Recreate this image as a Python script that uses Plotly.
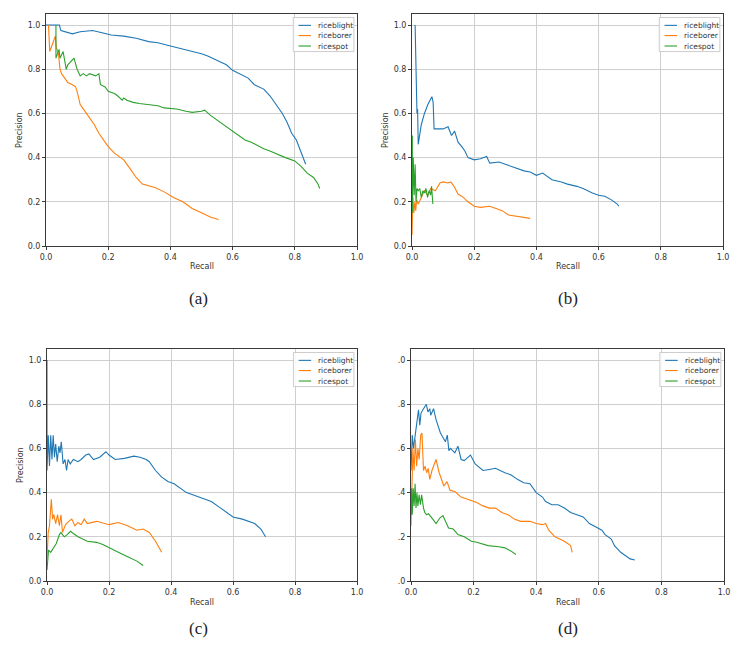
import plotly.graph_objects as go

# ---------------- data ----------------
series_names = ["riceblight", "riceborer", "ricespot"]
series_colors = ["#1f77b4", "#ff7f0e", "#2ca02c"]
panel_labels = ["(a)", "(b)", "(c)", "(d)"]
tick_vals = [0.0, 0.2, 0.4, 0.6, 0.8, 1.0]
tick_text = ["0.0", "0.2", "0.4", "0.6", "0.8", "1.0"]
tick_text_d = [".0", ".2", ".4", ".6", ".8", ".0"]

# panel (a)
a_blight_recall = [0.0, 0.043, 0.048, 0.06, 0.085, 0.11, 0.15, 0.18, 0.21, 0.25, 0.29, 0.33, 0.36, 0.40, 0.43, 0.47,
                   0.50, 0.52, 0.55, 0.58, 0.60, 0.62, 0.65, 0.67, 0.70, 0.72, 0.74, 0.76, 0.775, 0.79, 0.805, 0.815,
                   0.825, 0.835]
a_blight_precision = [1.0, 1.0, 0.975, 0.97, 0.96, 0.97, 0.975, 0.965, 0.955, 0.95, 0.94, 0.925, 0.92, 0.905, 0.895,
                      0.88, 0.87, 0.86, 0.84, 0.82, 0.795, 0.78, 0.76, 0.73, 0.71, 0.68, 0.64, 0.60, 0.56, 0.51, 0.48,
                      0.44, 0.41, 0.37]
a_borer_recall = [0.008, 0.012, 0.025, 0.03, 0.033, 0.04, 0.045, 0.05, 0.06, 0.07, 0.085, 0.095, 0.10, 0.11, 0.13,
                  0.14, 0.155, 0.17, 0.18, 0.20, 0.22, 0.25, 0.27, 0.29, 0.31, 0.35, 0.38, 0.41, 0.44, 0.47, 0.50,
                  0.53, 0.555]
a_borer_precision = [1.0, 0.88, 0.93, 0.95, 0.90, 0.87, 0.80, 0.78, 0.76, 0.74, 0.73, 0.72, 0.70, 0.64, 0.60, 0.58,
                     0.55, 0.51, 0.49, 0.45, 0.42, 0.39, 0.35, 0.31, 0.28, 0.265, 0.245, 0.22, 0.20, 0.17, 0.15,
                     0.13, 0.12]
a_spot_recall = [0.032, 0.032, 0.042, 0.045, 0.055, 0.065, 0.07, 0.09, 0.10, 0.11, 0.12, 0.13, 0.14, 0.16, 0.17,
                 0.175, 0.19, 0.20, 0.22, 0.23, 0.245, 0.25, 0.26, 0.28, 0.30, 0.33, 0.36, 0.38, 0.42, 0.45, 0.47,
                 0.50, 0.51, 0.53, 0.55, 0.57, 0.60, 0.62, 0.64, 0.66, 0.68, 0.70, 0.72, 0.75, 0.77, 0.80, 0.82,
                 0.84, 0.86, 0.875, 0.88]
a_spot_precision = [1.0, 0.85, 0.89, 0.85, 0.88, 0.80, 0.82, 0.85, 0.80, 0.77, 0.78, 0.77, 0.78, 0.77, 0.78, 0.73,
                    0.72, 0.70, 0.69, 0.68, 0.66, 0.67, 0.66, 0.65, 0.645, 0.64, 0.635, 0.625, 0.62, 0.61, 0.605,
                    0.61, 0.615, 0.59, 0.57, 0.55, 0.52, 0.50, 0.48, 0.47, 0.455, 0.44, 0.43, 0.41, 0.40, 0.385,
                    0.36, 0.33, 0.31, 0.28, 0.26]

# panel (b)
b_blight_recall = [0.01, 0.012, 0.014, 0.016, 0.018, 0.02, 0.03, 0.04, 0.051, 0.064, 0.068, 0.071, 0.085, 0.10,
                   0.116, 0.127, 0.137, 0.148, 0.16, 0.17, 0.18, 0.20, 0.22, 0.24, 0.25, 0.28, 0.30, 0.33, 0.36,
                   0.38, 0.40, 0.42, 0.43, 0.45, 0.48, 0.50, 0.53, 0.55, 0.58, 0.60, 0.62, 0.64, 0.66, 0.665]
b_blight_precision = [1.0, 0.78, 0.80, 0.60, 0.62, 0.46, 0.55, 0.60, 0.64, 0.676, 0.65, 0.53, 0.53, 0.53, 0.54,
                      0.50, 0.52, 0.47, 0.45, 0.43, 0.40, 0.39, 0.395, 0.405, 0.375, 0.38, 0.37, 0.355, 0.34,
                      0.335, 0.32, 0.33, 0.32, 0.30, 0.29, 0.28, 0.27, 0.26, 0.24, 0.23, 0.225, 0.21, 0.19, 0.18]
b_borer_recall = [0.0, 0.003, 0.006, 0.009, 0.012, 0.015, 0.02, 0.03, 0.04, 0.05, 0.06, 0.075, 0.09, 0.10, 0.115,
                  0.125, 0.135, 0.148, 0.165, 0.18, 0.19, 0.20, 0.22, 0.25, 0.27, 0.29, 0.31, 0.34, 0.36, 0.38]
b_borer_precision = [0.05, 0.22, 0.15, 0.20, 0.16, 0.21, 0.19, 0.22, 0.25, 0.23, 0.26, 0.25, 0.285, 0.29, 0.285,
                     0.29, 0.27, 0.235, 0.22, 0.20, 0.19, 0.18, 0.175, 0.18, 0.17, 0.16, 0.14, 0.135, 0.13, 0.125]
b_spot_recall = [0.001, 0.001, 0.004, 0.007, 0.010, 0.013, 0.016, 0.020, 0.025, 0.030, 0.035, 0.040, 0.045,
                 0.050, 0.055, 0.060, 0.063, 0.066, 0.067]
b_spot_precision = [0.50, 0.15, 0.40, 0.23, 0.37, 0.20, 0.26, 0.25, 0.26, 0.22, 0.25, 0.24, 0.26, 0.22, 0.25,
                    0.23, 0.27, 0.22, 0.19]

# panel (c)
c_blight_recall = [0.0, 0.0, 0.004, 0.008, 0.012, 0.016, 0.02, 0.024, 0.028, 0.033, 0.038, 0.042, 0.046, 0.049,
                   0.052, 0.058, 0.063, 0.068, 0.075, 0.085, 0.10, 0.11, 0.125, 0.135, 0.15, 0.17, 0.19, 0.20,
                   0.22, 0.25, 0.28, 0.30, 0.32, 0.33, 0.35, 0.37, 0.39, 0.41, 0.43, 0.45, 0.47, 0.50, 0.53, 0.56,
                   0.58, 0.60, 0.63, 0.65, 0.67, 0.69, 0.70, 0.705]
c_blight_precision = [1.0, 0.50, 0.66, 0.52, 0.66, 0.55, 0.66, 0.56, 0.62, 0.54, 0.61, 0.58, 0.63, 0.55, 0.53,
                      0.55, 0.50, 0.55, 0.53, 0.55, 0.54, 0.55, 0.57, 0.575, 0.55, 0.56, 0.585, 0.57, 0.55, 0.555,
                      0.565, 0.56, 0.55, 0.54, 0.50, 0.47, 0.45, 0.44, 0.42, 0.40, 0.39, 0.375, 0.36, 0.33, 0.31,
                      0.29, 0.28, 0.27, 0.26, 0.235, 0.21, 0.20]
c_borer_recall = [0.0, 0.004, 0.008, 0.014, 0.018, 0.022, 0.028, 0.034, 0.04, 0.045, 0.05, 0.06, 0.07, 0.08,
                  0.09, 0.10, 0.11, 0.12, 0.13, 0.16, 0.20, 0.23, 0.26, 0.29, 0.31, 0.33, 0.35, 0.37]
c_borer_precision = [0.10, 0.22, 0.25, 0.37, 0.28, 0.30, 0.26, 0.30, 0.25, 0.30, 0.22, 0.255, 0.27, 0.28, 0.25,
                     0.265, 0.255, 0.28, 0.26, 0.27, 0.255, 0.265, 0.25, 0.23, 0.235, 0.22, 0.18, 0.13]
c_spot_recall = [0.0, 0.005, 0.012, 0.02, 0.03, 0.04, 0.045, 0.05, 0.056, 0.065, 0.076, 0.085, 0.10, 0.13, 0.16,
                 0.18, 0.20, 0.23, 0.26, 0.29, 0.31]
c_spot_precision = [0.05, 0.14, 0.13, 0.15, 0.17, 0.21, 0.22, 0.21, 0.20, 0.21, 0.225, 0.215, 0.20, 0.18, 0.175,
                    0.165, 0.15, 0.13, 0.11, 0.09, 0.07]

# panel (d)
d_blight_recall = [0.0, 0.004, 0.008, 0.013, 0.018, 0.024, 0.028, 0.032, 0.040, 0.049, 0.054, 0.060, 0.063, 0.072,
                   0.080, 0.094, 0.104, 0.110, 0.116, 0.121, 0.126, 0.14, 0.15, 0.16, 0.17, 0.19, 0.205, 0.23, 0.25,
                   0.27, 0.30, 0.32, 0.34, 0.36, 0.38, 0.39, 0.40, 0.42, 0.43, 0.45, 0.47, 0.49, 0.51, 0.53, 0.55,
                   0.57, 0.59, 0.61, 0.62, 0.64, 0.65, 0.67, 0.69, 0.70, 0.715]
d_blight_precision = [0.50, 0.66, 0.60, 0.66, 0.72, 0.775, 0.705, 0.76, 0.78, 0.80, 0.765, 0.78, 0.75, 0.78, 0.73,
                      0.67, 0.645, 0.63, 0.66, 0.59, 0.60, 0.58, 0.61, 0.55, 0.545, 0.57, 0.53, 0.50, 0.505, 0.51,
                      0.49, 0.48, 0.46, 0.445, 0.44, 0.42, 0.40, 0.38, 0.36, 0.345, 0.345, 0.33, 0.31, 0.30, 0.29,
                      0.26, 0.245, 0.23, 0.21, 0.19, 0.16, 0.13, 0.11, 0.10, 0.095]
d_borer_recall = [0.0, 0.003, 0.006, 0.010, 0.014, 0.018, 0.022, 0.026, 0.031, 0.035, 0.040, 0.045, 0.050, 0.055,
                  0.060, 0.067, 0.074, 0.080, 0.090, 0.100, 0.105, 0.115, 0.125, 0.14, 0.16, 0.19, 0.21, 0.23, 0.25,
                  0.27, 0.29, 0.31, 0.33, 0.35, 0.38, 0.40, 0.42, 0.43, 0.44, 0.46, 0.49, 0.51, 0.515]
d_borer_precision = [0.25, 0.42, 0.60, 0.50, 0.64, 0.52, 0.60, 0.55, 0.66, 0.67, 0.50, 0.52, 0.49, 0.51, 0.46,
                     0.50, 0.53, 0.55, 0.49, 0.45, 0.43, 0.45, 0.41, 0.405, 0.38, 0.365, 0.355, 0.34, 0.33, 0.33,
                     0.31, 0.30, 0.28, 0.27, 0.27, 0.26, 0.255, 0.26, 0.23, 0.20, 0.18, 0.16, 0.13]
d_spot_recall = [0.0, 0.002, 0.004, 0.007, 0.010, 0.013, 0.016, 0.019, 0.022, 0.026, 0.030, 0.034, 0.040, 0.044,
                 0.050, 0.056, 0.064, 0.070, 0.080, 0.092, 0.102, 0.110, 0.120, 0.135, 0.150, 0.170, 0.193, 0.21,
                 0.246, 0.28, 0.30, 0.32, 0.335]
d_spot_precision = [0.30, 0.42, 0.30, 0.42, 0.34, 0.44, 0.33, 0.40, 0.34, 0.39, 0.345, 0.39, 0.33, 0.31, 0.30,
                    0.305, 0.29, 0.28, 0.26, 0.285, 0.296, 0.27, 0.24, 0.235, 0.21, 0.20, 0.18, 0.175, 0.16, 0.155,
                    0.15, 0.135, 0.12]

panels = [
    [(a_blight_recall, a_blight_precision), (a_borer_recall, a_borer_precision), (a_spot_recall, a_spot_precision)],
    [(b_blight_recall, b_blight_precision), (b_borer_recall, b_borer_precision), (b_spot_recall, b_spot_precision)],
    [(c_blight_recall, c_blight_precision), (c_borer_recall, c_borer_precision), (c_spot_recall, c_spot_precision)],
    [(d_blight_recall, d_blight_precision), (d_borer_recall, d_borer_precision), (d_spot_recall, d_spot_precision)],
]

# ---------------- layout geometry (pixels of a 751x653 page) ----------------
W, H = 751, 653
boxes = [  # left, right, top, bottom in px
    (46, 357, 14, 246),
    (412, 723, 14, 246),
    (47, 357, 349, 581),
    (411, 724, 349, 581),
]
label_pos = [(198, 298), (568, 298), (198, 628), (568, 628)]

FONT = "DejaVu Sans"
TXT = "#333333"
fig = go.Figure()
layout = dict(
    template="none",
    width=W, height=H, margin=dict(l=0, r=0, t=0, b=0, pad=0),
    paper_bgcolor="white", plot_bgcolor="white", showlegend=False,
    font=dict(family=FONT, size=8, color=TXT),
)
annotations = []
shapes = []

for i, (box, series) in enumerate(zip(boxes, panels)):
    n = "" if i == 0 else str(i + 1)
    xa, ya = "x" + n, "y" + n
    l, r, t, b = box
    for (rx, py), name, col in zip(series, series_names, series_colors):
        fig.add_trace(go.Scatter(x=rx, y=py, mode="lines", name=name, xaxis=xa, yaxis=ya,
                                 line=dict(color=col, width=1.1), showlegend=False))
    axis_common = dict(automargin=False, showline=True, linecolor="#3a3a3a", linewidth=1, mirror=True,
                       showgrid=True, gridcolor="#cfcfcf", gridwidth=1, zeroline=False,
                       ticks="outside", ticklen=3, tickcolor="#3a3a3a", tickwidth=1,
                       tickfont=dict(family=FONT, size=8, color=TXT),
                       tickvals=tick_vals)
    layout["xaxis" + n] = dict(axis_common, domain=[l / W, r / W], anchor=ya, range=[0, 1.0],
                               ticktext=tick_text)
    layout["yaxis" + n] = dict(axis_common, domain=[1 - b / H, 1 - t / H], anchor=xa, range=[0, 1.05],
                               ticktext=(tick_text if i < 3 else tick_text_d))

    # axis titles as annotations placed relative to each axes box
    xr, yr = xa + " domain", ya + " domain"
    annotations.append(dict(xref=xr, yref="paper", x=0.5, y=1 - (b + 21) / H, text="Recall",
                            showarrow=False, xanchor="center", yanchor="middle",
                            font=dict(family=FONT, size=8, color=TXT)))
    if i < 3:
        annotations.append(dict(xref="paper", yref=yr, x=(l - 27) / W, y=0.5, text="Precision",
                                textangle=-90, showarrow=False, xanchor="center", yanchor="middle",
                                font=dict(family=FONT, size=8, color=TXT)))

    # legend box (drawn in axes-domain coordinates)
    shapes.append(dict(type="rect", xref=xr, yref=yr, x0=0.795, x1=0.99, y0=0.838, y1=0.985,
                       line=dict(color="#cccccc", width=1), fillcolor="rgba(255,255,255,0.85)", layer="above"))
    rows = [0.951, 0.907, 0.862]
    for yy, name, col in zip(rows, series_names, series_colors):
        shapes.append(dict(type="line", xref=xr, yref=yr, x0=0.812, x1=0.852, y0=yy, y1=yy,
                           line=dict(color=col, width=1.1), layer="above"))
        annotations.append(dict(xref=xr, yref=yr, x=0.868, y=yy, text=name, showarrow=False,
                                xanchor="left", yanchor="middle",
                                font=dict(family=FONT, size=7.5, color=TXT)))
    # panel label
    lx, ly = label_pos[i]
    annotations.append(dict(xref="paper", yref="paper", x=lx / W, y=1 - ly / H, text=panel_labels[i],
                            showarrow=False, xanchor="center", yanchor="middle",
                            font=dict(family="Liberation Serif", size=17, color="#222222")))

layout["annotations"] = annotations
layout["shapes"] = shapes
fig.update_layout(**layout)
fig.write_html("out.html", config={"displayModeBar": False, "staticPlot": True},
               post_script="document.body.style.margin='0px';document.body.style.overflow='hidden';")
